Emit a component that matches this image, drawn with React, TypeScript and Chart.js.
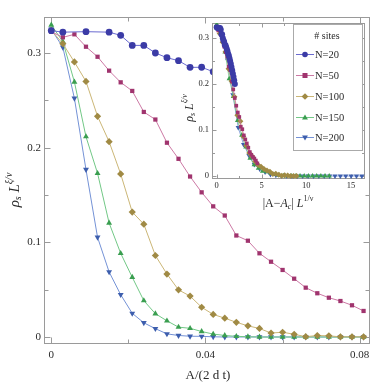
import React, { useEffect, useRef } from "react";
import { Chart, registerables } from "chart.js";
Chart.register(...registerables);

// ---------- data ----------
const aValues = [0, 0.003, 0.006, 0.009, 0.012, 0.015, 0.018, 0.021, 0.024, 0.027, 0.03, 0.033, 0.036, 0.039, 0.042, 0.045, 0.048, 0.051, 0.054, 0.057, 0.06, 0.063, 0.066, 0.069, 0.072, 0.075, 0.078, 0.081];
const seriesNames = ["N=20", "N=50", "N=100", "N=150", "N=200"];
const rhoN20 = [0.3236, 0.322, null, 0.3225, null, 0.322, 0.3186, 0.308, 0.308, 0.3, 0.295, 0.2919, 0.2848, 0.2849, 0.2802, 0.276, 0.272, 0.266, 0.262, 0.256, 0.25, 0.244, 0.237, 0.23, 0.223, 0.216, 0.208, 0.2];
const rhoN50 = [0.3225, 0.3165, 0.3197, 0.3066, 0.296, 0.2813, 0.269, 0.2599, 0.2377, 0.2297, 0.2052, 0.1882, 0.1695, 0.1528, 0.138, 0.1283, 0.1072, 0.1017, 0.0884, 0.0795, 0.0708, 0.0616, 0.0521, 0.0462, 0.0415, 0.038, 0.0335, 0.0275];
const rhoN100 = [0.324, 0.3098, 0.2905, 0.27, 0.2331, 0.2063, 0.1722, 0.132, 0.1192, 0.0861, 0.0665, 0.0498, 0.0432, 0.0314, 0.0238, 0.0199, 0.0155, 0.0118, 0.009, 0.0042, 0.005, 0.0029, 0.0003, 0.0016, 0.0012, 0.0002, 0.0002, 0.0002];
const rhoN150 = [0.3296, 0.312, 0.2694, 0.2116, 0.1729, 0.1204, 0.0884, 0.0631, 0.0384, 0.0246, 0.0171, 0.0104, 0.0092, 0.0058, 0.0031, 0.0016, 0.0007, 0.0003, 0, 0, 0, 0, 0, 0, 0, 0, 0, 0];
const rhoN200 = [0.325, 0.306, 0.2521, 0.1769, 0.1053, 0.0687, 0.0447, 0.025, 0.015, 0.0088, 0.0033, 0.0016, 0.0008, 0.0007, 0.0002, 0, 0, 0, 0, 0, 0, 0, 0, 0, 0, 0, 0, 0];
const seriesValues = [rhoN20, rhoN50, rhoN100, rhoN150, rhoN200];
// L^{1/nu} scale of each system size
const insetScale = [25, 56, 110, 155, 200];

const mainXTicks = [0, 0.04, 0.08];
const mainXTickLabels = ["0", "0.04", "0.08"];
const mainXMinor = [0.02, 0.06];
const mainYTicks = [0, 0.1, 0.2, 0.3];
const mainYTickLabels = ["0", "0.1", "0.2", "0.3"];
const mainYMinor = [0.05, 0.15, 0.25];
const insetXTicks = [0, 5, 10, 15];
const insetXTickLabels = ["0", "5", "10", "15"];
const insetXMinor = [2.5, 7.5, 12.5];
const insetYTicks = [0, 0.1, 0.2, 0.3];
const insetYTickLabels = ["0", "0.1", "0.2", "0.3"];
const insetYMinor = [0.05, 0.15, 0.25];

// ---------- styles ----------
const markerColors = ["#3b3ba6", "#a0346e", "#a08a44", "#3a9e50", "#3d5ead"];
const lineColors = ["#6a6ad0", "#cc78a4", "#cbb676", "#72c886", "#7492d6"];
const pointStyles = ["circle", "rect", "rectRot", "triangle", "triangle"];
const pointRotations = [0, 0, 0, 0, 180];
const SERIF = '"Liberation Serif", "DejaVu Serif", serif';
const FRAME = "#9a9a9a";
const TEXT = "#2a2a2a";

type Seg = { t: string; size: number; italic?: boolean; dy?: number };

function drawSegs(ctx: CanvasRenderingContext2D, segs: Seg[], cx: number, cy: number, rot: number) {
  ctx.save();
  ctx.translate(cx, cy);
  ctx.rotate(rot);
  let total = 0;
  for (const s of segs) {
    ctx.font = `${s.italic ? "italic " : ""}${s.size}px ${SERIF}`;
    total += ctx.measureText(s.t).width;
  }
  let x = -total / 2;
  ctx.fillStyle = TEXT;
  ctx.textBaseline = "middle";
  ctx.textAlign = "left";
  for (const s of segs) {
    ctx.font = `${s.italic ? "italic " : ""}${s.size}px ${SERIF}`;
    ctx.fillText(s.t, x, s.dy || 0);
    x += ctx.measureText(s.t).width;
  }
  ctx.restore();
}

function drawMarker(ctx: CanvasRenderingContext2D, style: string, rot: number, x: number, y: number, r: number, color: string) {
  ctx.save();
  ctx.fillStyle = color;
  ctx.beginPath();
  if (style === "circle") {
    ctx.arc(x, y, r, 0, Math.PI * 2);
  } else if (style === "rect") {
    ctx.rect(x - r * 0.9, y - r * 0.9, r * 1.8, r * 1.8);
  } else if (style === "rectRot") {
    ctx.moveTo(x, y - r * 1.2);
    ctx.lineTo(x + r * 1.2, y);
    ctx.lineTo(x, y + r * 1.2);
    ctx.lineTo(x - r * 1.2, y);
  } else {
    const s = rot === 180 ? -1 : 1;
    ctx.moveTo(x, y - s * r * 1.1);
    ctx.lineTo(x + r * 1.05, y + s * r * 0.7);
    ctx.lineTo(x - r * 1.05, y + s * r * 0.7);
  }
  ctx.closePath();
  ctx.fill();
  ctx.restore();
}

type FrameCfg = {
  xTicks: number[]; xLabels: string[]; xMinor: number[];
  yTicks: number[]; yLabels: string[]; yMinor: number[];
  major: number; minor: number; font: number; xLabelY: number; yLabelX: number;
  whiteBg?: boolean;
};

function framePlugin(id: string, cfg: FrameCfg, extra?: (chart: any) => void) {
  return {
    id,
    beforeDatasetsDraw(chart: any) {
      const ctx: CanvasRenderingContext2D = chart.ctx;
      const a = chart.chartArea;
      const xs = chart.scales.x;
      const ys = chart.scales.y;
      ctx.save();
      if (cfg.whiteBg) {
        ctx.fillStyle = "#ffffff";
        ctx.fillRect(a.left, a.top, a.right - a.left + 4, a.bottom - a.top);
      }
      ctx.strokeStyle = FRAME;
      ctx.lineWidth = 1;
      ctx.strokeRect(Math.round(a.left) + 0.5, Math.round(a.top) + 0.5, Math.round(a.right - a.left) - 1, Math.round(a.bottom - a.top) - 1);
      const L = Math.round(a.left) + 0.5, R = Math.round(a.right) - 0.5, T = Math.round(a.top) + 0.5, B = Math.round(a.bottom) - 0.5;
      ctx.beginPath();
      const vt = (v: number, len: number) => {
        const px = Math.round(xs.getPixelForValue(v)) + 0.5;
        ctx.moveTo(px, B); ctx.lineTo(px, B - len);
        ctx.moveTo(px, T); ctx.lineTo(px, T + len);
      };
      const ht = (v: number, len: number) => {
        const py = Math.round(ys.getPixelForValue(v)) + 0.5;
        ctx.moveTo(L, py); ctx.lineTo(L + len, py);
        ctx.moveTo(R, py); ctx.lineTo(R - len, py);
      };
      cfg.xTicks.forEach((v) => vt(v, cfg.major));
      cfg.xMinor.forEach((v) => vt(v, cfg.minor));
      cfg.yTicks.forEach((v) => ht(v, cfg.major));
      cfg.yMinor.forEach((v) => ht(v, cfg.minor));
      ctx.stroke();
      ctx.fillStyle = TEXT;
      ctx.font = `${cfg.font}px ${SERIF}`;
      ctx.textBaseline = "middle";
      ctx.textAlign = "center";
      cfg.xTicks.forEach((v, i) => ctx.fillText(cfg.xLabels[i], xs.getPixelForValue(v), cfg.xLabelY));
      ctx.textAlign = "right";
      cfg.yTicks.forEach((v, i) => ctx.fillText(cfg.yLabels[i], cfg.yLabelX, ys.getPixelForValue(v)));
      ctx.restore();
      if (extra) extra(chart);
    },
  };
}

function buildDatasets(inset: boolean) {
  return seriesValues.map((vals, si) => ({
    label: seriesNames[si],
    data: aValues
      .map((a, i) => ({ x: inset ? a * insetScale[si] : a, y: vals[i] }))
      .filter((p) => p.y !== null),
    borderColor: lineColors[si],
    backgroundColor: markerColors[si],
    pointBackgroundColor: markerColors[si],
    pointBorderColor: markerColors[si],
    pointBorderWidth: 0,
    borderWidth: inset ? 0.8 : 1,
    pointStyle: pointStyles[si],
    pointRotation: pointRotations[si],
    pointRadius: inset ? (si === 1 ? 2.6 : 3) : si === 1 ? 3 : si === 2 ? 3.6 : 3.4,
    tension: 0,
    showLine: true,
    fill: false,
  }));
}

export default function App() {
  const mainRef = useRef<HTMLCanvasElement | null>(null);
  const insetRef = useRef<HTMLCanvasElement | null>(null);

  useEffect(() => {
    const mainLabels = (chart: any) => {
      const ctx: CanvasRenderingContext2D = chart.ctx;
      drawSegs(ctx, [{ t: "A/(2 d t)", size: 13 }], 208, 376, 0);
      drawSegs(
        ctx,
        [
          { t: "ρ", size: 15, italic: true },
          { t: "s", size: 10, italic: true, dy: 3 },
          { t: " ", size: 15 },
          { t: "L", size: 15, italic: true },
          { t: "ξ/ν", size: 10, italic: true, dy: -6 },
        ],
        15,
        190,
        -Math.PI / 2
      );
    };
    const main = new Chart(mainRef.current as HTMLCanvasElement, {
      type: "line",
      data: { datasets: buildDatasets(false) as any },
      options: {
        animation: false,
        responsive: false,
        devicePixelRatio: 1,
        spanGaps: true,
        layout: { padding: { left: 44, right: 3, top: 17, bottom: 43 } },
        plugins: { legend: { display: false }, tooltip: { enabled: false } },
        scales: {
          x: { type: "linear", display: false, min: -0.00189, max: 0.08267 },
          y: { type: "linear", display: false, min: -0.0074, max: 0.338 },
        },
      },
      plugins: [
        framePlugin(
          "mainFrame",
          {
            xTicks: mainXTicks, xLabels: mainXTickLabels, xMinor: mainXMinor,
            yTicks: mainYTicks, yLabels: mainYTickLabels, yMinor: mainYMinor,
            major: 6, minor: 4, font: 11, xLabelY: 355, yLabelX: 41,
          },
          mainLabels
        ),
      ],
    });

    const insetExtras = (chart: any) => {
      const ctx: CanvasRenderingContext2D = chart.ctx;
      drawSegs(
        ctx,
        [
          { t: "|A−", size: 12 },
          { t: "A", size: 12, italic: true },
          { t: "c", size: 8, italic: true, dy: 3 },
          { t: "| ", size: 12 },
          { t: "L", size: 12, italic: true },
          { t: "1/ν", size: 8, dy: -5 },
        ],
        108,
        194,
        0
      );
      drawSegs(
        ctx,
        [
          { t: "ρ", size: 12, italic: true },
          { t: "s", size: 8, italic: true, dy: 2.5 },
          { t: " ", size: 12 },
          { t: "L", size: 12, italic: true },
          { t: "ξ/ν", size: 8, italic: true, dy: -5 },
        ],
        10,
        98,
        -Math.PI / 2
      );
    };

    const legendPlugin = {
      id: "insetLegend",
      afterDraw(chart: any) {
        const ctx: CanvasRenderingContext2D = chart.ctx;
        ctx.save();
        ctx.fillStyle = "#ffffff";
        ctx.fillRect(113, 14, 69, 126);
        ctx.strokeStyle = "#aaaaaa";
        ctx.lineWidth = 1;
        ctx.strokeRect(113.5, 14.5, 69, 126);
        ctx.fillStyle = TEXT;
        ctx.font = `10px ${SERIF}`;
        ctx.textBaseline = "middle";
        ctx.textAlign = "center";
        ctx.fillText("# sites", 147, 26);
        const rows = [44, 65, 86, 107, 127];
        seriesNames.forEach((name, i) => {
          const y = rows[i];
          ctx.strokeStyle = lineColors[i];
          ctx.lineWidth = 1;
          ctx.beginPath();
          ctx.moveTo(116, y + 0.5);
          ctx.lineTo(134, y + 0.5);
          ctx.stroke();
          drawMarker(ctx, pointStyles[i], pointRotations[i], 125, y + 0.5, 2.8, markerColors[i]);
          ctx.fillStyle = TEXT;
          ctx.font = `10.5px ${SERIF}`;
          ctx.textAlign = "left";
          ctx.fillText(name, 135, y + 1);
        });
        ctx.restore();
      },
    };

    const inset = new Chart(insetRef.current as HTMLCanvasElement, {
      type: "line",
      data: { datasets: buildDatasets(true) as any },
      options: {
        animation: false,
        responsive: false,
        devicePixelRatio: 1,
        spanGaps: true,
        layout: { padding: { left: 32, right: 9, top: 13, bottom: 36 } },
        plugins: { legend: { display: false }, tooltip: { enabled: false } },
        scales: {
          x: { type: "linear", display: false, min: -0.525, max: 16.55 },
          y: { type: "linear", display: false, min: -0.0065, max: 0.3326 },
        },
      },
      plugins: [
        framePlugin(
          "insetFrame",
          {
            xTicks: insetXTicks, xLabels: insetXTickLabels, xMinor: insetXMinor,
            yTicks: insetYTicks, yLabels: insetYTickLabels, yMinor: insetYMinor,
            major: 4, minor: 2.5, font: 8.5, xLabelY: 176, yLabelX: 29, whiteBg: true,
          },
          insetExtras
        ),
        legendPlugin,
      ],
    });

    return () => {
      main.destroy();
      inset.destroy();
    };
  }, []);

  return (
    <div style={{ position: "fixed", left: 0, top: 0, width: 374, height: 387, background: "#ffffff" }}>
      <canvas ref={mainRef} width={374} height={387} style={{ position: "absolute", left: 0, top: 0, width: 374, height: 387 }} />
      <canvas ref={insetRef} width={194} height={205} style={{ position: "absolute", left: 180, top: 10, width: 194, height: 205 }} />
    </div>
  );
}
